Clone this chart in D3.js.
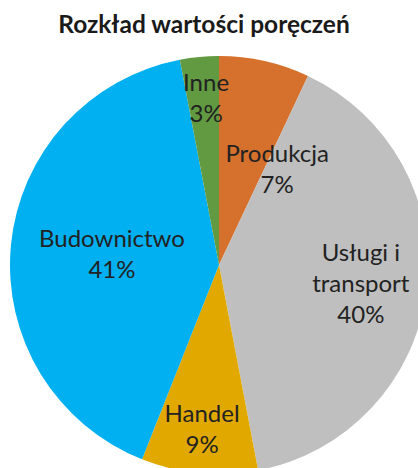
<!DOCTYPE html>
<html>
<head>
<meta charset="utf-8">
<script src="https://cdn.jsdelivr.net/npm/d3@7"></script>
<style>
  body { margin: 0; background: #fff; }
  svg { display: block; }
</style>
</head>
<body>
<div class="chart"></div>
<script>
// data (percent of guarantee value)
var categories = ['Produkcja', 'Usługi i transport', 'Handel', 'Budownictwo', 'Inne'];
var values = [7, 40, 9, 41, 3];
var labelLines = [['Produkcja'], ['Usługi i', 'transport'], ['Handel'], ['Budownictwo'], ['Inne']];
var title = 'Rozkład wartości poręczeń';

var colors = ['#D5712D', '#BFBFBF', '#E1A900', '#00B0F0', '#619A40'];

// where excel dropped each label: fraction of radius + angle nudge (deg)
var labelRadius = [0.54, 0.684, 0.787, 0.515, 0.806];
var labelNudge = [18.4, 0, 0.5, 0.7, 1];

var width = 418,
    height = 468,
    cx = 219,
    cy = 265,
    r = 209,
    lineH = 31;

var svg = d3.select('.chart')
  .append('svg')
  .attr('width', width)
  .attr('height', height);

svg.append('text')
  .attr('x', 204)
  .attr('y', 33)
  .attr('text-anchor', 'middle')
  .style('font-family', 'Lato, "Open Sans", sans-serif')
  .style('font-weight', 'bold')
  .style('font-size', '24.5px')
  .style('fill', '#1a1a1a')
  .text(title);

var data = categories.map(function(c, i) {
  return { name: c, value: values[i], lines: labelLines[i] };
});

// first slice starts at 12 o'clock, clockwise, keep data order
var pie = d3.pie()
  .sort(null)
  .value(function(d) { return d.value; });

var arc = d3.arc()
  .innerRadius(0)
  .outerRadius(r);

var arcs = pie(data);

var g = svg.append('g')
  .attr('transform', 'translate(' + cx + ',' + cy + ')');

g.selectAll('path')
  .data(arcs)
  .enter()
  .append('path')
  .attr('d', arc)
  .style('fill', function(d, i) { return colors[i]; });

var labels = g.selectAll('text.lbl')
  .data(arcs)
  .enter()
  .append('text')
  .attr('class', 'lbl')
  .attr('text-anchor', 'middle')
  .style('font-family', 'Lato, "Open Sans", sans-serif')
  .style('font-size', '24px')
  .style('fill', '#222')
  .attr('transform', function(d, i) {
    var a = (d.startAngle + d.endAngle) / 2 + labelNudge[i] * Math.PI / 180;
    var rr = r * labelRadius[i];
    return 'translate(' + (Math.sin(a) * rr) + ',' + (-Math.cos(a) * rr) + ')';
  });

labels.each(function(d) {
  var el = d3.select(this);
  var lines = d.data.lines.concat([Math.round(d.data.value) + '%']);
  var n = lines.length;
  lines.forEach(function(t, k) {
    el.append('tspan')
      .attr('x', 0)
      .attr('y', (k - (n - 1) / 2) * lineH + 9)
      .text(t);
  });
});
</script>
</body>
</html>
